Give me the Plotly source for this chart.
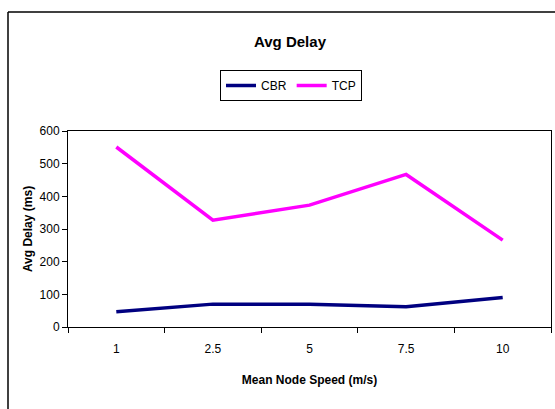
import plotly.graph_objects as go

speeds = ["1", "2.5", "5", "7.5", "10"]
cbr = [47, 70, 70, 62, 90]
tcp = [551, 327, 373, 467, 266]

W, H = 555, 409
L, R, T, B = 68, 551, 131, 327
pw, ph = R - L, B - T

def px(x):
    return (x - L) / pw

def py(y):
    return (B - y) / ph

font_main = "Liberation Sans Narrow, Arial Narrow, Liberation Sans, Arial"
font_bold = "Liberation Sans Narrow, Arial Narrow, Liberation Sans, Arial"

fig = go.Figure()
fig.add_trace(go.Scatter(x=speeds, y=cbr, mode="lines", name="CBR",
                         line=dict(color="#000080", width=3.5)))
fig.add_trace(go.Scatter(x=speeds, y=tcp, mode="lines", name="TCP",
                         line=dict(color="#FF00FF", width=3.5)))

fig.update_layout(
    width=W, height=H,
    margin=dict(l=L, r=W - R, t=T, b=H - B),
    paper_bgcolor="white", plot_bgcolor="white",
    title=dict(text="<b>Avg Delay</b>", xref="paper", x=px(290), xanchor="center",
               yref="container", y=1 - 42 / H, yanchor="middle",
               font=dict(family=font_bold, size=15, color="black")),
    legend=dict(orientation="h", x=px(291), xanchor="center", y=py(70), yanchor="top",
                bordercolor="black", borderwidth=1, bgcolor="white",
                font=dict(family=font_main, size=12, color="black"),
                itemwidth=30, tracegroupgap=0),
    showlegend=True,
)
fig.update_xaxes(type="category", range=[-0.5, 4.5], tickson="boundaries",
                 ticks="outside", ticklen=5,
                 tickcolor="black", showline=True, linecolor="black", linewidth=1,
                 mirror=True, showgrid=False,
                 tickfont=dict(family=font_main, size=12, color="black"),
                 ticklabelstandoff=11,
                 title=dict(text="<b>Mean Node Speed (m/s)</b>", standoff=20,
                            font=dict(family=font_bold, size=12, color="black")))
fig.update_yaxes(range=[0, 600], dtick=100, ticks="outside", ticklen=5,
                 tickcolor="black", showline=True, linecolor="black", linewidth=1,
                 mirror=True, showgrid=False, zeroline=False,
                 tickfont=dict(family=font_main, size=12, color="black"),
                 title=dict(text="<b>Avg Delay (ms)</b>", standoff=4,
                            font=dict(family=font_bold, size=12, color="black")))

# outer chart frame (partially visible)
fig.add_shape(type="line", xref="paper", yref="paper",
              x0=px(8), x1=px(8), y0=py(420), y1=py(12),
              line=dict(color="black", width=1.5))
fig.add_shape(type="line", xref="paper", yref="paper",
              x0=px(8), x1=px(570), y0=py(12), y1=py(12),
              line=dict(color="black", width=1.5))

fig.write_html("out.html")
